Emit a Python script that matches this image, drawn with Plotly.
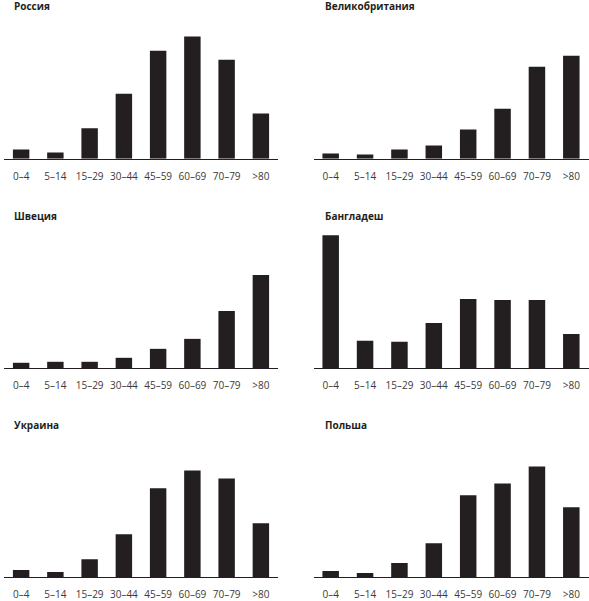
import plotly.graph_objects as go

categories = ["0–4", "5–14", "15–29", "30–44", "45–59", "60–69", "70–79", ">80"]

countries = ["Россия", "Великобритания", "Швеция", "Бангладеш", "Украина", "Польша"]

russia = [9.3, 6.3, 30.7, 65.3, 108.3, 122.7, 99.3, 45.3]
uk = [5.3, 4.3, 9.3, 13.3, 29.3, 50.3, 92.3, 103.3]
sweden = [5.3, 6.3, 6.3, 10.3, 19.3, 29.3, 57.3, 93.3]
bangladesh = [133.3, 27.3, 26.3, 45.3, 69.3, 68.3, 68.3, 34.3]
ukraine = [7.3, 5.3, 18.3, 43.3, 89.3, 107.3, 99.3, 54.3]
poland = [6.3, 4.3, 14.3, 34.3, 82.3, 94.3, 111.3, 70.3]

series = [russia, uk, sweden, bangladesh, ukraine, poland]

W, H = 589, 601
BAR = "#231f20"
FONT = "Open Sans"

# pixel layout
col_x = [(4, 278), (313.5, 588.5)]
title_x = [11.5, 322.5]
baselines = [159.3, 369.3, 579.3]   # from top
title_y = [6.3, 216.8, 426.8]       # from top
YMAX = 140

fig = go.Figure()
layout = {}
for i, (name, vals) in enumerate(zip(countries, series)):
    r, c = divmod(i, 2)
    n = i + 1
    xa = "x" if n == 1 else f"x{n}"
    ya = "y" if n == 1 else f"y{n}"
    fig.add_trace(go.Bar(x=categories, y=vals, xaxis=xa, yaxis=ya,
                         marker=dict(color=BAR, line=dict(width=0)),
                         width=0.48, showlegend=False, hoverinfo="x+y"))
    b = H - baselines[r]
    layout[f"xaxis{'' if n == 1 else n}"] = dict(
        domain=[col_x[c][0] / W, col_x[c][1] / W], anchor=ya,
        type="category", range=[-0.5, 7.5], showline=True, linecolor="#231f20",
        linewidth=1, showgrid=False, zeroline=False, ticks="",
        ticklabelstandoff=8,
        tickfont=dict(family=FONT, size=10, color="#3a3a3a"), fixedrange=True)
    layout[f"yaxis{'' if n == 1 else n}"] = dict(
        domain=[b / H, (b + YMAX) / H], anchor=xa, range=[0, YMAX],
        showline=False, showgrid=False, zeroline=False, showticklabels=False,
        ticks="", fixedrange=True)
    fig.add_annotation(text=f"<b>{name}</b>", xref="paper", yref="paper",
                       x=title_x[c] / W, y=(H - title_y[r]) / H,
                       xanchor="left", yanchor="middle", showarrow=False,
                       font=dict(family=FONT, size=10, color="#231f20"))

fig.update_layout(**layout)
fig.update_layout(width=W, height=H, autosize=False,
                  margin=dict(l=0, r=0, t=0, b=0),
                  paper_bgcolor="white", plot_bgcolor="white",
                  bargap=0.5)
fig.write_html("out.html", config={"displayModeBar": False},
               post_script="document.body.style.margin='0';"
                           "document.body.style.overflow='hidden';")
